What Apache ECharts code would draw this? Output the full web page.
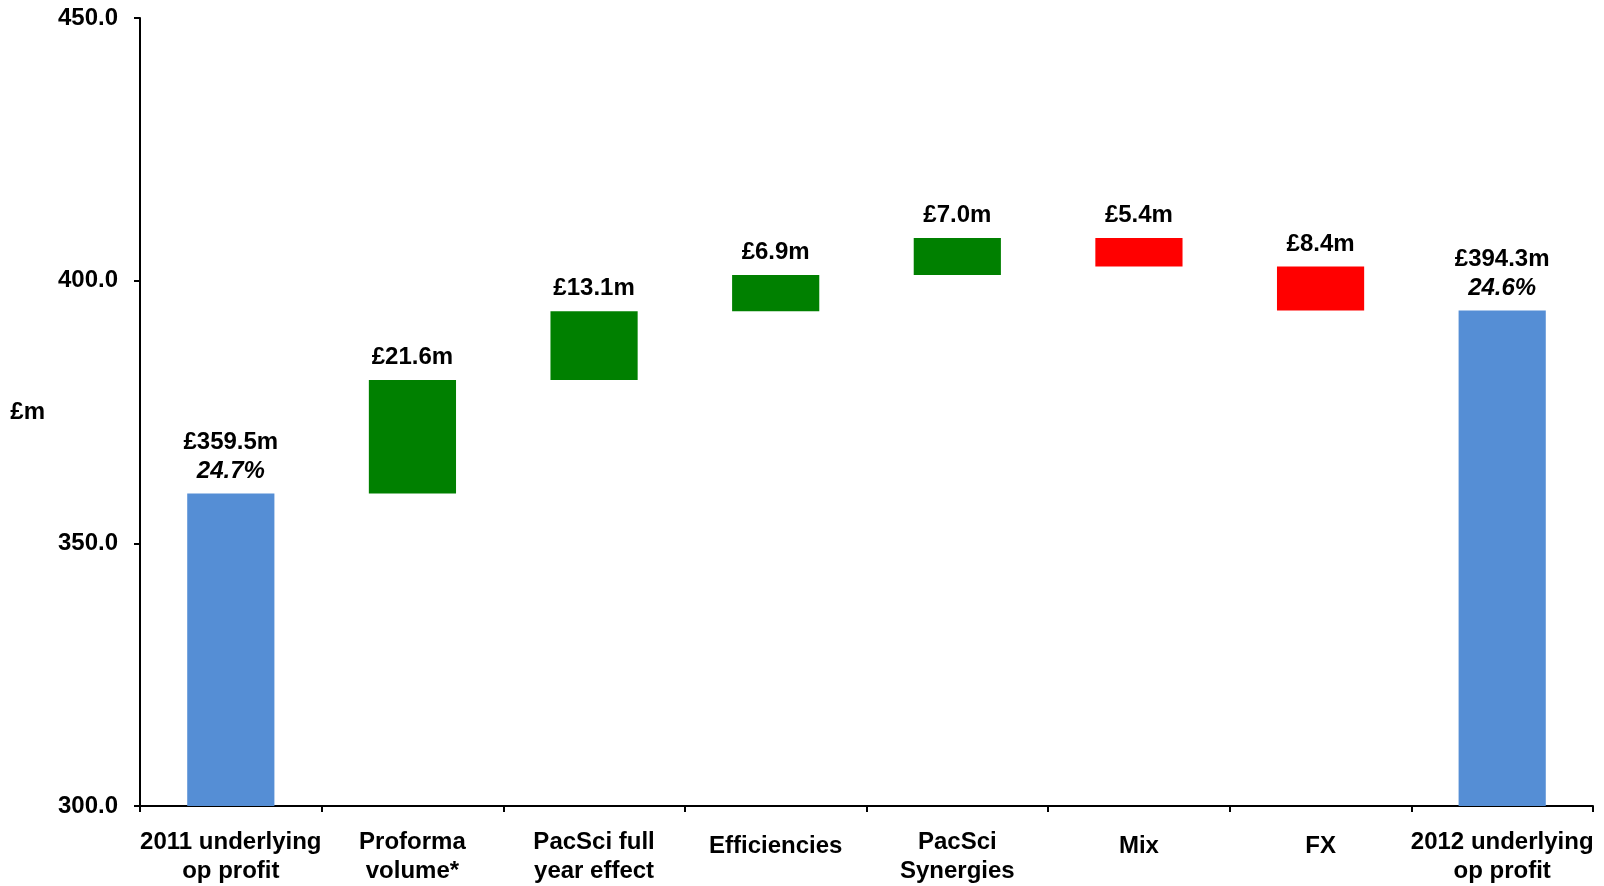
<!DOCTYPE html>
<html>
<head>
<meta charset="utf-8">
<script src="https://cdn.jsdelivr.net/npm/echarts@6/dist/echarts.min.js"></script>
<style>
  html, body { margin: 0; padding: 0; background: #fff; }
  #chart { width: 1604px; height: 886px; }
</style>
</head>
<body>
<div id="chart"></div>
<script>
// Operating profit bridge, 2011 to 2012 (£m)
const categories = [
  '2011 underlying\nop profit',
  'Proforma\nvolume*',
  'PacSci full\nyear effect',
  'Efficiencies',
  'PacSci\nSynergies',
  'Mix',
  'FX',
  '2012 underlying\nop profit'
];
const startValue = 359.5;
const endValue = 394.3;
const steps = [21.6, 13.1, 6.9, 7.0, -5.4, -8.4];
const startMargin = '24.7%';
const endMargin = '24.6%';
const yTicks = { min: 300, max: 450, step: 50 };

const FONT = '"Liberation Sans", Arial, Helvetica, sans-serif';
const FS = 24;
const BLUE = '#558ED5', GREEN = '#008000', RED = '#FF0000';

// Build invisible base + visible segment for each column
const base = [], visible = [];
base.push(0);
visible.push({ value: startValue, itemStyle: { color: BLUE }, lbl: '{v|£' + startValue.toFixed(1) + 'm}\n{p|' + startMargin + '}' });
let running = startValue;
steps.forEach(d => {
  const lo = d >= 0 ? running : running + d;
  base.push(+lo.toFixed(2));
  visible.push({ value: Math.abs(d), itemStyle: { color: d >= 0 ? GREEN : RED }, lbl: '{v|£' + Math.abs(d).toFixed(1) + 'm}' });
  running += d;
});
base.push(0);
visible.push({ value: endValue, itemStyle: { color: BLUE }, lbl: '{v|£' + endValue.toFixed(1) + 'm}\n{p|' + endMargin + '}' });

// Single-line category names sit a little lower than two-line ones
const catData = categories.map(c => ({
  value: c,
  textStyle: { padding: [c.includes('\n') ? 0 : 4, 0, 0, 0] }
}));

const chart = echarts.init(document.getElementById('chart'), null, { renderer: 'canvas' });
chart.setOption({
  animation: false,
  backgroundColor: '#fff',
  grid: { left: 140, right: 11, top: 18, bottom: 79, containLabel: false },
  xAxis: {
    type: 'category',
    data: catData,
    axisLine: { lineStyle: { color: '#000', width: 2 } },
    axisTick: { show: true, length: 6, lineStyle: { color: '#000', width: 2 } },
    axisLabel: {
      color: '#000', fontFamily: FONT, fontWeight: 'bold', fontSize: FS,
      lineHeight: 29, margin: 22, interval: 0
    }
  },
  yAxis: {
    type: 'value',
    min: yTicks.min, max: yTicks.max, interval: yTicks.step,
    name: '£m',
    nameLocation: 'middle',
    nameRotate: 0,
    nameGap: 95,
    nameTextStyle: { color: '#000', fontFamily: FONT, fontWeight: 'bold', fontSize: FS },
    axisLine: { show: true, lineStyle: { color: '#000', width: 2 } },
    axisTick: { show: true, length: 6, lineStyle: { color: '#000', width: 2 } },
    splitLine: { show: false },
    axisLabel: {
      color: '#000', fontFamily: FONT, fontWeight: 'bold', fontSize: FS, margin: 22,
      padding: [8, 0, 0, 0],
      formatter: v => v.toFixed(1)
    }
  },
  series: [
    {
      type: 'bar', stack: 'w', barWidth: '48%',
      itemStyle: { color: 'transparent' },
      emphasis: { disabled: true },
      data: base
    },
    {
      type: 'bar', stack: 'w', barWidth: '48%',
      data: visible,
      label: {
        show: true, position: 'top', distance: 8,
        formatter: p => p.data.lbl,
        rich: {
          v: { fontFamily: FONT, fontWeight: 'bold', fontSize: FS, color: '#000', lineHeight: 29 },
          p: { fontFamily: FONT, fontWeight: 'bold', fontStyle: 'italic', fontSize: FS, color: '#000', lineHeight: 29 }
        }
      }
    }
  ]
});
</script>
</body>
</html>
